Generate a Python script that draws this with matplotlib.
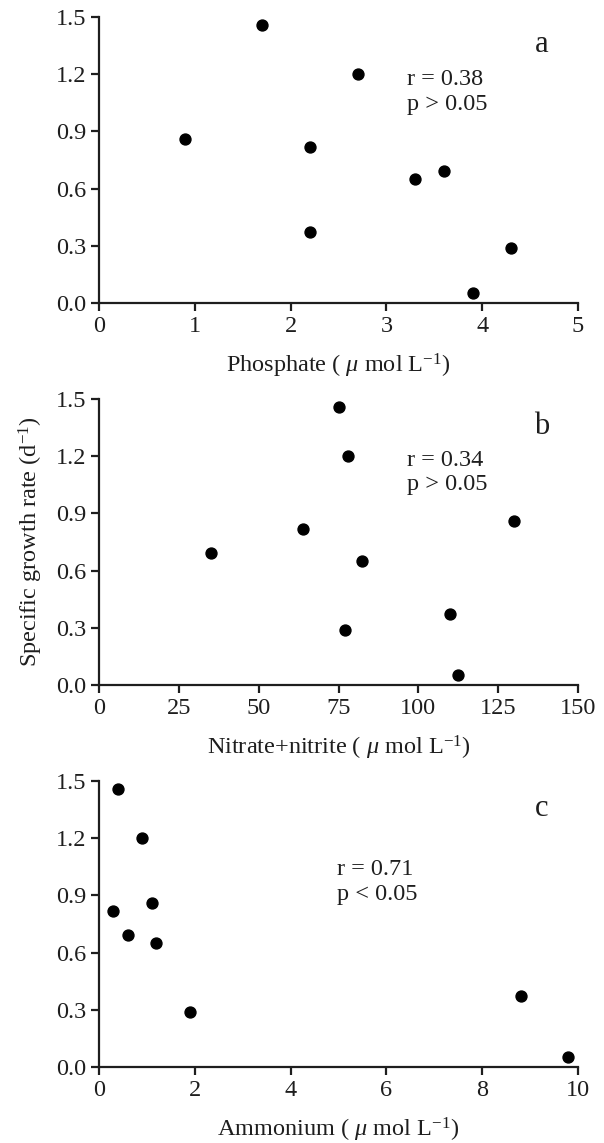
import matplotlib
matplotlib.use("Agg")
import matplotlib.pyplot as plt

plt.rcParams['font.family'] = ['Liberation Serif', 'DejaVu Serif']
plt.rcParams['mathtext.fontset'] = 'custom'
plt.rcParams['mathtext.rm'] = 'Liberation Serif'
plt.rcParams['mathtext.it'] = 'Liberation Serif:italic'
plt.rcParams['mathtext.bf'] = 'Liberation Serif:bold'

# Data
growth_rate = [0.86, 1.46, 0.82, 0.37, 1.20, 0.65, 0.69, 0.05, 0.29]
phosphate = [0.9, 1.7, 2.2, 2.2, 2.7, 3.3, 3.6, 3.9, 4.3]

nitrate_growth = [0.69, 0.82, 1.46, 1.20, 0.65, 0.29, 0.37, 0.05, 0.86]
nitrate = [35, 64, 75, 78, 82.5, 77, 110, 112.5, 130]

ammonium_growth = [0.82, 1.46, 0.69, 1.20, 0.86, 0.65, 0.29, 0.37, 0.05]
ammonium = [0.3, 0.4, 0.6, 0.9, 1.1, 1.2, 1.9, 8.8, 9.8]

yticks = [0.0, 0.3, 0.6, 0.9, 1.2, 1.5]
xticks_a = [0, 1, 2, 3, 4, 5]
xticks_b = [0, 25, 50, 75, 100, 125, 150]
xticks_c = [0, 2, 4, 6, 8, 10]

xlabels = [r'Phosphate ( $\mu$ mol L$^{\mathregular{-1}}$)',
           r'Nitrate+nitrite ( $\mu$ mol L$^{\mathregular{-1}}$)',
           r'Ammonium ( $\mu$ mol L$^{\mathregular{-1}}$)']
stats = [('r = 0.38\np > 0.05', 0.643, 0.738),
         ('r = 0.34\np > 0.05', 0.643, 0.743),
         ('r = 0.71\np < 0.05', 0.497, 0.647)]
letters = ['a', 'b', 'c']

W, H = 604, 1143
fig = plt.figure(figsize=(W / 100, H / 100), dpi=100)

left = 99 / W
width = 479 / W
height = 286 / H
bottoms = [1 - 303 / H, 1 - 685 / H, 1 - 1067 / H]

panels = [(phosphate, growth_rate, xticks_a),
          (nitrate, nitrate_growth, xticks_b),
          (ammonium, ammonium_growth, xticks_c)]

fs = 17.5
col = '#1e1e1e'
for i, ((xv, yv, xt), b) in enumerate(zip(panels, bottoms)):
    ax = fig.add_axes([left, b, width, height])
    ax.scatter(xv, yv, s=62, color='black', zorder=3, clip_on=False)
    ax.set_xlim(xt[0], xt[-1])
    ax.set_ylim(0, 1.5)
    ax.set_xticks(xt)
    ax.set_yticks(yticks)
    ax.set_yticklabels([f'{v:.1f}' for v in yticks])
    for s in ['top', 'right']:
        ax.spines[s].set_visible(False)
    for s in ['left', 'bottom']:
        ax.spines[s].set_linewidth(1.6)
        ax.spines[s].set_color(col)
    ax.tick_params(direction='out', length=6, width=1.6, labelsize=fs, pad=3, colors=col)
    ax.set_xlabel(xlabels[i], fontsize=fs, labelpad=11, color=col)
    txt, xf, yf = stats[i]
    ax.text(xf, yf, txt, transform=ax.transAxes, fontsize=fs,
            va='center', ha='left', linespacing=1.2, color=col)
    ax.text(0.925, 0.905, letters[i], transform=ax.transAxes, fontsize=22,
            va='center', ha='center', color=col)
    if i == 1:
        ax.set_ylabel(r'Specific growth rate (d$^{\mathregular{-1}}$)', fontsize=fs, labelpad=8,
                      color=col)

fig.savefig('out.png', dpi=100)
